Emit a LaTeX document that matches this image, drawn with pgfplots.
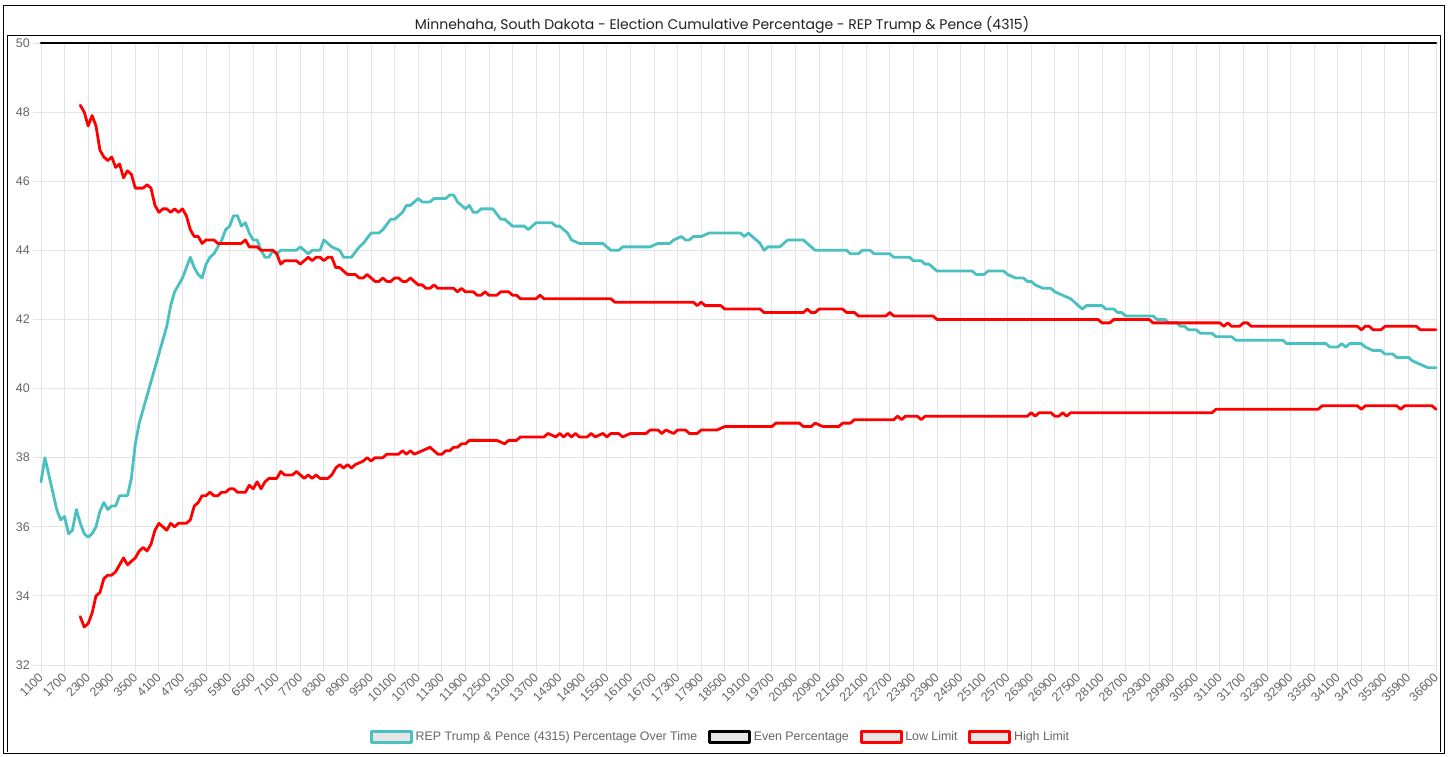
\documentclass[border=0pt]{standalone}
\usepackage{pgfplots}
\usepackage{pgfplotstable}
\pgfplotsset{compat=1.18}
\usepackage{fontspec}
\setmainfont{Liberation Sans}
\newfontfamily\poppins{Poppins}
\definecolor{tealc}{RGB}{75,192,192}
\definecolor{redc}{RGB}{255,0,0}
\definecolor{gridc}{RGB}{228,228,228}
\definecolor{labelc}{RGB}{102,102,102}
\definecolor{legfill}{RGB}{230,230,230}

\pgfplotstableread{
x y
1100 37.3
1200 38.0
1300 37.5
1400 37.0
1500 36.5
1600 36.2
1700 36.3
1800 35.8
1900 35.9
2000 36.5
2100 36.1
2200 35.8
2300 35.7
2400 35.8
2500 36.0
2600 36.45
2700 36.7
2800 36.5
2900 36.6
3000 36.6
3100 36.9
3200 36.9
3300 36.9
3400 37.4
3500 38.4
3600 39.0
3700 39.4
3800 39.8
3900 40.2
4000 40.6
4100 41.0
4200 41.4
4300 41.8
4400 42.4
4500 42.8
4600 43.0
4700 43.2
4800 43.5
4900 43.8
5000 43.5
5100 43.3
5200 43.2
5300 43.6
5400 43.8
5500 43.9
5600 44.1
5700 44.3
5800 44.6
5900 44.7
6000 45.0
6100 45.0
6200 44.7
6300 44.8
6400 44.5
6500 44.3
6600 44.3
6700 44.0
6800 43.8
6900 43.8
7000 44.0
7100 43.9
7200 44.0
7600 44.0
7700 44.1
7900 43.9
8000 44.0
8200 44.0
8300 44.3
8500 44.1
8700 44.0
8800 43.8
9000 43.8
9200 44.1
9300 44.2
9500 44.5
9700 44.5
9800 44.6
10000 44.9
10100 44.9
10300 45.1
10400 45.3
10500 45.3
10700 45.5
10800 45.4
11000 45.4
11100 45.5
11400 45.5
11500 45.6
11600 45.6
11700 45.4
11900 45.2
12000 45.3
12100 45.1
12200 45.1
12300 45.2
12600 45.2
12800 44.9
12900 44.9
13100 44.7
13400 44.7
13500 44.6
13700 44.8
14100 44.8
14200 44.7
14300 44.7
14500 44.5
14600 44.3
14800 44.2
15400 44.2
15600 44.0
15800 44.0
15900 44.1
16600 44.1
16800 44.2
17100 44.2
17200 44.3
17400 44.4
17500 44.3
17600 44.3
17700 44.4
17900 44.4
18100 44.5
18900 44.5
19000 44.4
19100 44.5
19200 44.4
19300 44.3
19400 44.2
19500 44.0
19600 44.1
19900 44.1
20000 44.2
20100 44.3
20500 44.3
20800 44.0
21600 44.0
21700 43.9
21900 43.9
22000 44.0
22200 44.0
22300 43.9
22700 43.9
22800 43.8
23200 43.8
23300 43.7
23500 43.7
23600 43.6
23700 43.6
23900 43.4
24800 43.4
24900 43.3
25100 43.3
25200 43.4
25600 43.4
25700 43.3
25900 43.2
26100 43.2
26200 43.1
26300 43.1
26400 43.0
26600 42.9
26800 42.9
26900 42.8
27100 42.7
27300 42.6
27400 42.5
27600 42.3
27700 42.4
28100 42.4
28200 42.3
28400 42.3
28500 42.2
28600 42.2
28700 42.1
29400 42.1
29500 42.0
29700 42.0
29800 41.9
30000 41.9
30100 41.8
30200 41.8
30300 41.7
30500 41.7
30600 41.6
30900 41.6
31000 41.5
31400 41.5
31500 41.4
32700 41.4
32800 41.3
33800 41.3
33900 41.2
34100 41.2
34200 41.3
34300 41.2
34400 41.3
34700 41.3
34800 41.2
35000 41.1
35200 41.1
35300 41.0
35500 41.0
35600 40.9
35900 40.9
36000 40.8
36200 40.7
36400 40.6
36600 40.6
}\tealdata

\pgfplotstableread{
x y
1100 50
36600 50
}\evendata

\pgfplotstableread{
x y
2100 33.4
2200 33.1
2300 33.2
2400 33.5
2500 34.0
2600 34.1
2700 34.5
2800 34.6
2900 34.6
3000 34.7
3100 34.9
3200 35.1
3300 34.9
3400 35.0
3500 35.1
3600 35.3
3700 35.4
3800 35.3
3900 35.5
4000 35.9
4100 36.1
4200 36.0
4300 35.9
4400 36.1
4500 36.0
4600 36.1
4700 36.1
4800 36.1
4900 36.2
5000 36.6
5100 36.7
5200 36.9
5300 36.9
5400 37.0
5500 36.9
5600 36.9
5700 37.0
5800 37.0
5900 37.1
6000 37.1
6100 37.0
6200 37.0
6300 37.0
6400 37.2
6500 37.1
6600 37.3
6700 37.1
6800 37.3
6900 37.4
7100 37.4
7200 37.6
7300 37.5
7500 37.5
7600 37.6
7800 37.4
7900 37.5
8000 37.4
8100 37.5
8200 37.4
8400 37.4
8500 37.5
8600 37.7
8700 37.8
8800 37.7
8900 37.8
9000 37.7
9100 37.8
9300 37.9
9400 38.0
9500 37.9
9600 38.0
9800 38.0
9900 38.1
10200 38.1
10300 38.2
10400 38.1
10500 38.2
10600 38.1
10800 38.2
11000 38.3
11200 38.1
11300 38.1
11400 38.2
11500 38.2
11600 38.3
11700 38.3
11800 38.4
11900 38.4
12000 38.5
12700 38.5
12900 38.4
13000 38.5
13200 38.5
13300 38.6
13900 38.6
14000 38.7
14200 38.6
14300 38.7
14400 38.6
14500 38.7
14600 38.6
14700 38.7
14800 38.6
15000 38.6
15100 38.7
15200 38.6
15400 38.7
15500 38.6
15600 38.7
15800 38.7
15900 38.6
16100 38.7
16500 38.7
16600 38.8
16800 38.8
16900 38.7
17000 38.8
17200 38.7
17300 38.8
17500 38.8
17600 38.7
17800 38.7
17900 38.8
18300 38.8
18500 38.9
19700 38.9
19800 39.0
20400 39.0
20500 38.9
20700 38.9
20800 39.0
21000 38.9
21400 38.9
21500 39.0
21700 39.0
21800 39.1
22800 39.1
22900 39.2
23000 39.1
23100 39.2
23400 39.2
23500 39.1
23600 39.2
26200 39.2
26300 39.3
26400 39.2
26500 39.3
26800 39.3
26900 39.2
27000 39.2
27100 39.3
27200 39.2
27300 39.3
30900 39.3
31000 39.4
33600 39.4
33700 39.5
34600 39.5
34700 39.4
34800 39.5
35600 39.5
35700 39.4
35800 39.5
36500 39.5
36600 39.4
}\lowdata

\pgfplotstableread{
x y
2100 48.2
2200 48.0
2300 47.6
2400 47.9
2500 47.6
2600 46.9
2700 46.7
2800 46.6
2900 46.7
3000 46.4
3100 46.5
3200 46.1
3300 46.3
3400 46.2
3500 45.8
3700 45.8
3800 45.9
3900 45.8
4000 45.3
4100 45.1
4200 45.2
4300 45.2
4400 45.1
4500 45.2
4600 45.1
4700 45.2
4800 45.0
4900 44.6
5000 44.4
5100 44.4
5200 44.2
5300 44.3
5500 44.3
5600 44.2
6200 44.2
6300 44.3
6400 44.1
6600 44.1
6700 44.0
7000 44.0
7100 43.9
7200 43.6
7300 43.7
7600 43.7
7700 43.6
7900 43.8
8000 43.7
8100 43.8
8200 43.8
8300 43.7
8400 43.8
8500 43.8
8600 43.5
8700 43.5
8900 43.3
9100 43.3
9200 43.2
9300 43.2
9400 43.3
9600 43.1
9700 43.1
9800 43.2
9900 43.1
10000 43.1
10100 43.2
10200 43.2
10300 43.1
10400 43.1
10500 43.2
10700 43.0
10800 43.0
10900 42.9
11000 42.9
11100 43.0
11200 42.9
11600 42.9
11700 42.8
11800 42.9
11900 42.8
12100 42.8
12200 42.7
12300 42.7
12400 42.8
12500 42.7
12700 42.7
12800 42.8
13000 42.8
13100 42.7
13200 42.7
13300 42.6
13700 42.6
13800 42.7
13900 42.6
15600 42.6
15700 42.5
17700 42.5
17800 42.4
17900 42.5
18000 42.4
18400 42.4
18500 42.3
19400 42.3
19500 42.2
20500 42.2
20600 42.3
20700 42.2
20800 42.2
20900 42.3
21500 42.3
21600 42.2
21800 42.2
21900 42.1
22600 42.1
22700 42.2
22800 42.1
23800 42.1
23900 42.0
28000 42.0
28100 41.9
28300 41.9
28400 42.0
29300 42.0
29400 41.9
31100 41.9
31200 41.8
31300 41.9
31400 41.8
31600 41.8
31700 41.9
31800 41.9
31900 41.8
34600 41.8
34700 41.7
34800 41.8
34900 41.8
35000 41.7
35200 41.7
35300 41.8
36100 41.8
36200 41.7
36600 41.7
}\highdata

\begin{document}
\begin{tikzpicture}[x=1pt,y=1pt]
\path[use as bounding box] (0,0) rectangle (1450,757);
\fill[white] (0,0) rectangle (1450,757);
\begin{axis}[
  at={(41pt,92pt)}, anchor=south west,
  scale only axis, width=1395pt, height=622pt,
  xmin=1100, xmax=36600, ymin=32, ymax=50,
  clip=false,
  scaled x ticks=false, scaled y ticks=false,
  minor tick num=0,
  xtick={1100,1700,2300,2900,3500,4100,4700,5300,5900,6500,7100,7700,8300,8900,9500,10100,10700,11300,11900,12500,13100,13700,14300,14900,15500,16100,16700,17300,17900,18500,19100,19700,20300,20900,21500,22100,22700,23300,23900,24500,25100,25700,26300,26900,27500,28100,28700,29300,29900,30500,31100,31700,32300,32900,33500,34100,34700,35300,35900,36600},
  xticklabels={1100,1700,2300,2900,3500,4100,4700,5300,5900,6500,7100,7700,8300,8900,9500,10100,10700,11300,11900,12500,13100,13700,14300,14900,15500,16100,16700,17300,17900,18500,19100,19700,20300,20900,21500,22100,22700,23300,23900,24500,25100,25700,26300,26900,27500,28100,28700,29300,29900,30500,31100,31700,32300,32900,33500,34100,34700,35300,35900,36600},
  ytick={32,34,36,38,40,42,44,46,48,50},
  /pgf/number format/assume math mode=true,
  grid=major,
  major grid style={draw=gridc, line width=0.9pt},
  axis line style={draw=gridc, line width=0.9pt},
  tick pos=left, tick align=outside, major tick length=8pt,
  tick style={draw=gridc, line width=0.9pt},
  xticklabel style={rotate=45, anchor=east, inner sep=0pt, font=\fontsize{12.5}{14}\selectfont, text=labelc},
  yticklabel style={inner sep=0pt, font=\fontsize{12.5}{14}\selectfont, text=labelc},
  xticklabel shift=2pt,
  yticklabel shift=3pt,
  legend columns=4,
  legend style={at={(0.4875,-0.1158)}, anchor=center, draw=none, fill=none,
    font=\fontsize{12.4}{14}\selectfont, text=labelc,
    /tikz/every even column/.append style={column sep=8pt},
    nodes={inner sep=2.8pt}},
  legend image code/.code={\draw[#1, fill=legfill] (0pt,-5.5pt) rectangle (40pt,5.5pt);},
  every axis plot/.append style={line join=round, line cap=round},
]
\addplot[tealc, line width=2.8pt] table {\tealdata};
\addlegendentry{REP Trump \& Pence (4315) Percentage Over Time}
\addplot[black, line width=2.8pt] table {\evendata};
\addlegendentry{Even Percentage}
\addplot[redc, line width=2.8pt] table {\lowdata};
\addlegendentry{Low Limit}
\addplot[redc, line width=2.8pt] table {\highdata};
\addlegendentry{High Limit}
\end{axis}
\node[font=\poppins\fontsize{14}{16}\selectfont, text={rgb,255:red,34;green,34;blue,34}] at (722,732) {Minnehaha, South Dakota - Election Cumulative Percentage - REP Trump \& Pence (4315)};
\draw[black, line width=1pt] (3,3) rectangle (1444,751);
\draw[black, line width=1pt] (7,5) -- (7,721) -- (1440,721) -- (1440,5);
\end{tikzpicture}
\end{document}
